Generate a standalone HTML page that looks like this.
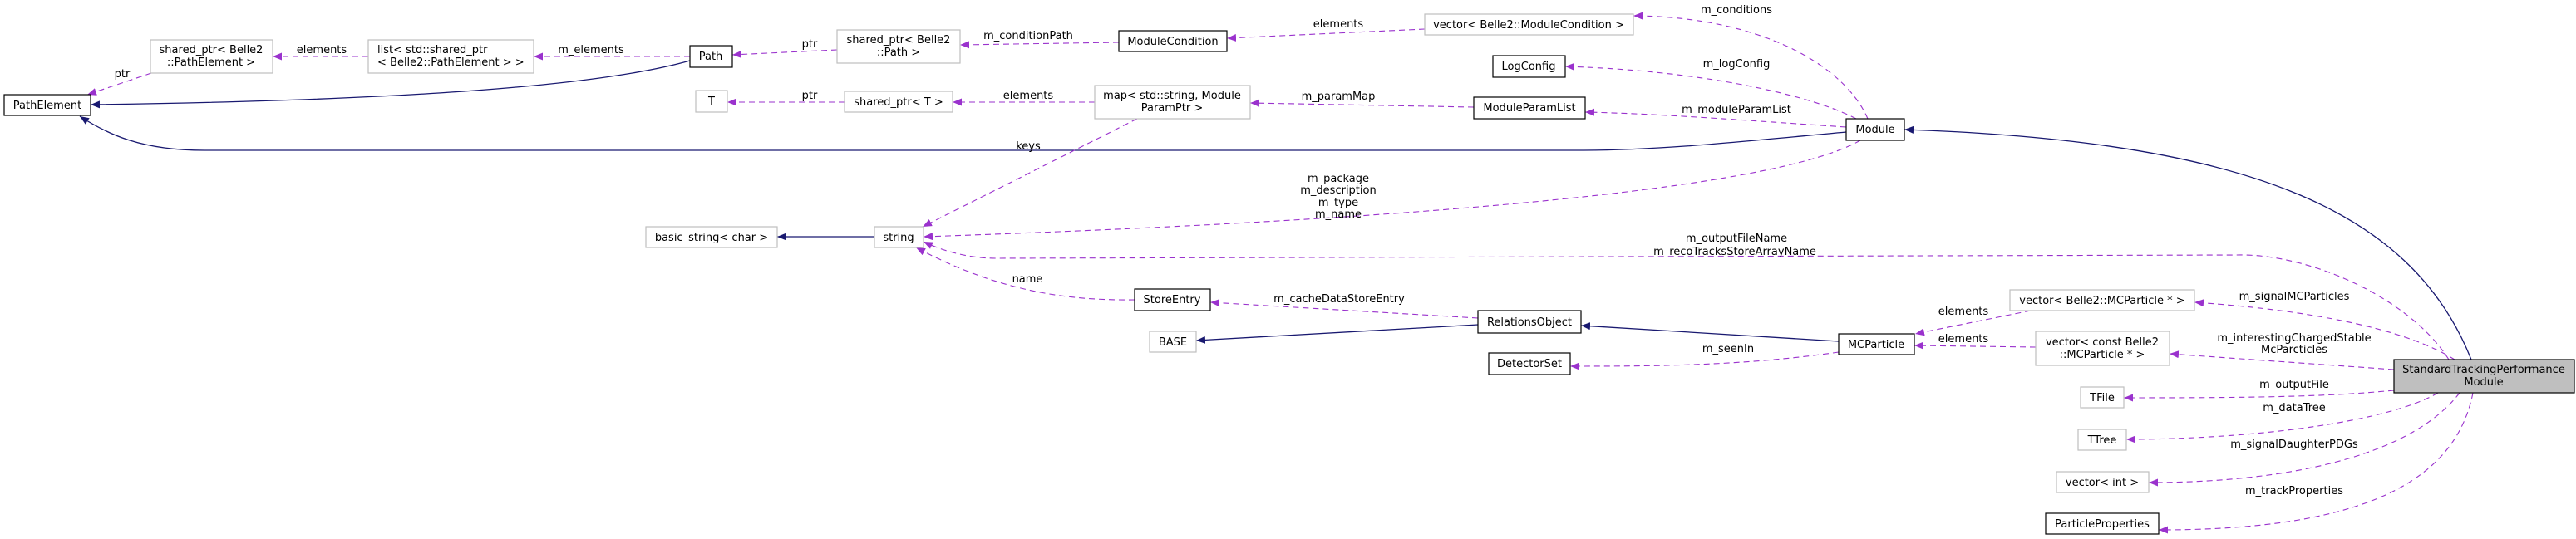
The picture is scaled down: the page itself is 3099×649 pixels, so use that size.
<!DOCTYPE html>
<html><head><meta charset="utf-8"><style>
html,body{margin:0;padding:0;background:#fff;}
svg{display:block;}
text{font-family:"DejaVu Sans","Liberation Sans",sans-serif;font-size:13px;fill:#000;}
.g{fill:#fff;stroke:#bfbfbf;stroke-width:1.2;}
.b{fill:#fff;stroke:#000;stroke-width:1.2;}
.p{fill:none;stroke:#9a32cd;stroke-width:1.1;stroke-dasharray:7,5;}
.n{fill:none;stroke:#191970;stroke-width:1.3;}
</style></head><body>
<svg width="3099" height="649" viewBox="0 0 3099 649" xmlns="http://www.w3.org/2000/svg">
<defs>
<marker id="ap" markerUnits="userSpaceOnUse" markerWidth="12" markerHeight="10" refX="11" refY="4.5" orient="auto"><path d="M0,0 L11,4.5 L0,9 z" fill="#9a32cd"/></marker>
<marker id="an" markerUnits="userSpaceOnUse" markerWidth="12" markerHeight="10" refX="11" refY="4.5" orient="auto"><path d="M0,0 L11,4.5 L0,9 z" fill="#191970"/></marker>
</defs>

<!-- edges -->
<path class="n" marker-end="url(#an)" d="M830,73 C700,110 400,122 109,126"/>
<path class="n" marker-end="url(#an)" d="M2221,159 C2100,170 2000,181 1900,181 L246,181 C170,181 130,162 96,140"/>
<path class="p" marker-end="url(#ap)" d="M182,88 L105,114"/>
<path class="p" marker-end="url(#ap)" d="M443,68 L328,68"/>
<path class="p" marker-end="url(#ap)" d="M830,68 L642,68"/>
<path class="p" marker-end="url(#ap)" d="M1007,60 L881,66"/>
<path class="p" marker-end="url(#ap)" d="M1346,51 L1155,54"/>
<path class="p" marker-end="url(#ap)" d="M1714,35 L1476,46"/>
<path class="p" marker-end="url(#ap)" d="M2247,143 C2220,80 2120,20 1965,19"/>
<path class="p" marker-end="url(#ap)" d="M2233,143 C2180,115 2050,85 1883,80"/>
<path class="p" marker-end="url(#ap)" d="M2221,153 C2100,145 2000,137 1907,135"/>
<path class="p" marker-end="url(#ap)" d="M1773,129 L1504,124"/>
<path class="p" marker-end="url(#ap)" d="M1317,123 L1146,123"/>
<path class="p" marker-end="url(#ap)" d="M1016,123 L875,123"/>
<path class="p" marker-end="url(#ap)" d="M1368,143 L1110,273"/>
<path class="p" marker-end="url(#ap)" d="M2238,169 C2150,220 1800,262 1111,285"/>
<path class="p" marker-end="url(#ap)" d="M2946,433 C2900,360 2780,305 2691,307 L1200,311 C1160,311 1130,300 1111,291"/>
<path class="n" marker-end="url(#an)" d="M1052,285 L935,285"/>
<path class="p" marker-end="url(#ap)" d="M1365,361 C1280,362 1200,350 1102,298"/>
<path class="p" marker-end="url(#ap)" d="M1778,383 L1456,364"/>
<path class="n" marker-end="url(#an)" d="M1778,391 L1439,410"/>
<path class="n" marker-end="url(#an)" d="M2212,411 L1902,392"/>
<path class="p" marker-end="url(#ap)" d="M2212,424 C2100,440 2000,441 1889,441"/>
<path class="p" marker-end="url(#ap)" d="M2443,374 L2304,402"/>
<path class="p" marker-end="url(#ap)" d="M2449,418 L2303,416"/>
<path class="p" marker-end="url(#ap)" d="M2953,433 C2900,400 2800,375 2640,364"/>
<path class="p" marker-end="url(#ap)" d="M2880,445 L2610,426"/>
<path class="p" marker-end="url(#ap)" d="M2880,470 C2800,478 2700,479 2555,479"/>
<path class="p" marker-end="url(#ap)" d="M2933,473 C2870,510 2700,529 2558,529"/>
<path class="p" marker-end="url(#ap)" d="M2959,473 C2900,550 2750,581 2585,581"/>
<path class="p" marker-end="url(#ap)" d="M2975,473 C2950,600 2800,638 2597,638"/>
<path class="n" marker-end="url(#an)" d="M2973,433 C2900,250 2700,170 2291,156"/>

<!-- edge labels -->
<g text-anchor="middle">
<text x="147" y="93">ptr</text>
<text x="387" y="64">elements</text>
<text x="711" y="64">m_elements</text>
<text x="974" y="57">ptr</text>
<text x="1237" y="47">m_conditionPath</text>
<text x="1610" y="33">elements</text>
<text x="2089" y="16">m_conditions</text>
<text x="2089" y="81">m_logConfig</text>
<text x="2089" y="136">m_moduleParamList</text>
<text x="1610" y="120">m_paramMap</text>
<text x="1237" y="119">elements</text>
<text x="974" y="119">ptr</text>
<text x="1237" y="180">keys</text>
<text x="1610" y="219">m_package</text>
<text x="1610" y="233">m_description</text>
<text x="1610" y="248">m_type</text>
<text x="1610" y="262">m_name</text>
<text x="2089" y="291">m_outputFileName</text>
<text x="2087" y="307">m_recoTracksStoreArrayName</text>
<text x="1236" y="340">name</text>
<text x="1611" y="364">m_cacheDataStoreEntry</text>
<text x="2079" y="424">m_seenIn</text>
<text x="2362" y="379">elements</text>
<text x="2362" y="412">elements</text>
<text x="2760" y="361">m_signalMCParticles</text>
<text x="2760" y="411">m_interestingChargedStable</text>
<text x="2760" y="425">McParcticles</text>
<text x="2760" y="467">m_outputFile</text>
<text x="2760" y="495">m_dataTree</text>
<text x="2760" y="539">m_signalDaughterPDGs</text>
<text x="2760" y="595">m_trackProperties</text>
</g>

<!-- nodes -->
<g text-anchor="middle">
<rect class="b" x="5" y="114" width="104" height="25"/><text x="57" y="131">PathElement</text>
<rect class="g" x="181" y="48" width="147" height="40"/><text x="254" y="64">shared_ptr&lt; Belle2</text><text x="254" y="79">::PathElement &gt;</text>
<rect class="b" x="830" y="55" width="51" height="26"/><text x="855" y="72">Path</text>
<rect class="g" x="1007" y="36" width="148" height="40"/><text x="1081" y="52">shared_ptr&lt; Belle2</text><text x="1081" y="67">::Path &gt;</text>
<rect class="b" x="1346" y="37" width="130" height="25"/><text x="1411" y="54">ModuleCondition</text>
<rect class="g" x="1714" y="17" width="251" height="25"/><text x="1839" y="34">vector&lt; Belle2::ModuleCondition &gt;</text>
<rect class="b" x="1796" y="67" width="87" height="26"/><text x="1839" y="84">LogConfig</text>
<rect class="g" x="837" y="109" width="38" height="26"/><text x="856" y="126">T</text>
<rect class="g" x="1016" y="110" width="130" height="25"/><text x="1081" y="127">shared_ptr&lt; T &gt;</text>
<rect class="g" x="1317" y="103" width="187" height="40"/><text x="1410" y="119">map&lt; std::string, Module</text><text x="1410" y="134">ParamPtr &gt;</text>
<rect class="b" x="1773" y="117" width="134" height="26"/><text x="1840" y="134">ModuleParamList</text>
<rect class="b" x="2221" y="143" width="70" height="26"/><text x="2256" y="160">Module</text>
<rect class="g" x="777" y="273" width="158" height="25"/><text x="856" y="290">basic_string&lt; char &gt;</text>
<rect class="g" x="1052" y="273" width="59" height="25"/><text x="1081" y="290">string</text>
<rect class="b" x="1365" y="348" width="91" height="26"/><text x="1410" y="365">StoreEntry</text>
<rect class="b" x="1778" y="374" width="124" height="27"/><text x="1840" y="392">RelationsObject</text>
<rect class="g" x="1383" y="399" width="56" height="25"/><text x="1411" y="416">BASE</text>
<rect class="b" x="1791" y="425" width="98" height="26"/><text x="1840" y="442">DetectorSet</text>
<rect class="b" x="2212" y="402" width="91" height="25"/><text x="2257" y="419">MCParticle</text>
<rect class="g" x="2418" y="349" width="222" height="25"/><text x="2529" y="366">vector&lt; Belle2::MCParticle * &gt;</text>
<rect class="g" x="2449" y="399" width="161" height="41"/><text x="2529" y="416">vector&lt; const Belle2</text><text x="2529" y="431">::MCParticle * &gt;</text>
<rect x="2880" y="433" width="217" height="40" fill="#bfbfbf" stroke="#000" stroke-width="1.2"/><text x="2988" y="449">StandardTrackingPerformance</text><text x="2988" y="464">Module</text>
<rect class="g" x="2503" y="466" width="52" height="25"/><text x="2529" y="483">TFile</text>
<rect class="g" x="2500" y="517" width="58" height="25"/><text x="2529" y="534">TTree</text>
<rect class="g" x="2474" y="568" width="111" height="25"/><text x="2529" y="585">vector&lt; int &gt;</text>
<rect class="b" x="2461" y="618" width="136" height="25"/><text x="2529" y="635">ParticleProperties</text>
</g>
<rect class="g" x="443" y="48" width="199" height="40"/>
<text x="454" y="64">list&lt; std::shared_ptr</text><text x="454" y="79">&lt; Belle2::PathElement &gt; &gt;</text>
</svg>
</body></html>
